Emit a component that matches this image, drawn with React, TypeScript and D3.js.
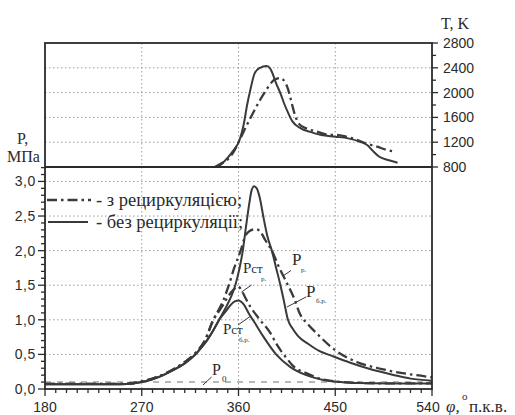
import React from "react";
import * as d3 from "d3";

// ---- Data (crank angle °, value) ----
const pressureTicks = [0, 0.5, 1.0, 1.5, 2.0, 2.5, 3.0];
const tempTicks = [800, 1200, 1600, 2000, 2400, 2800];
const angleTicks = [180, 270, 360, 450, 540];

// Firing pressure without recirculation (P б.р.), MPa
const pFiringNoRec: [number, number][] = [
  [180, 0.07], [220, 0.07], [250, 0.07], [262, 0.08], [270, 0.1], [280, 0.14], [290, 0.2],
  [300, 0.28], [310, 0.37], [320, 0.5], [325, 0.59], [331, 0.71], [337, 0.86], [342, 1.0],
  [348, 1.17], [353, 1.33], [357, 1.5], [361, 1.75], [364, 2.0], [367, 2.35], [370, 2.68],
  [372, 2.86], [374.5, 2.93], [377, 2.9], [380, 2.75], [383, 2.5], [387, 2.2], [391, 2.0],
  [395, 1.75], [399, 1.5], [402, 1.29], [406, 1.0], [410, 0.88], [415, 0.77], [425, 0.65],
  [435, 0.55], [445, 0.49], [464, 0.38], [480, 0.3], [505, 0.2], [520, 0.15], [540, 0.12],
];
// Firing pressure with recirculation (P р.), MPa
const pFiringRec: [number, number][] = [
  [180, 0.075], [220, 0.075], [250, 0.075], [262, 0.085], [270, 0.11], [280, 0.15], [290, 0.21],
  [300, 0.29], [310, 0.39], [320, 0.52], [329, 0.71], [336.6, 1.0], [345, 1.25], [351, 1.5],
  [356, 1.75], [362, 2.0], [366, 2.2], [370, 2.28], [376, 2.31], [380, 2.28], [385, 2.15],
  [391, 2.0], [398, 1.75], [406, 1.5], [412, 1.3], [417, 1.09], [425, 0.93], [433, 0.8],
  [450, 0.56], [470, 0.39], [490, 0.3], [505, 0.25], [525, 0.2], [540, 0.17],
];
// Motoring pressure without recirculation (Pст б.р.), MPa
const pMotorNoRec: [number, number][] = [
  [180, 0.07], [220, 0.07], [250, 0.07], [262, 0.08], [270, 0.1], [280, 0.14], [290, 0.2],
  [300, 0.28], [310, 0.37], [320, 0.5], [325, 0.59], [331, 0.71], [337, 0.86], [342, 1.0],
  [348, 1.12], [353, 1.22], [357, 1.27], [360, 1.28], [365, 1.22], [370, 1.08], [375, 0.96],
  [383, 0.76], [395, 0.5], [408, 0.32], [423, 0.2], [439, 0.13], [455, 0.1], [470, 0.085],
  [500, 0.08], [540, 0.08],
];
// Motoring pressure with recirculation (Pст р.), MPa
const pMotorRec: [number, number][] = [
  [180, 0.075], [220, 0.075], [250, 0.075], [262, 0.085], [270, 0.11], [280, 0.15], [290, 0.21],
  [300, 0.29], [310, 0.39], [320, 0.52], [329, 0.71], [336.6, 1.0], [340, 1.08], [345, 1.2],
  [350, 1.33], [355, 1.43], [358, 1.47], [360, 1.48], [363, 1.42], [367, 1.3], [371, 1.19],
  [380, 1.0], [390, 0.8], [395, 0.66], [400, 0.54], [405, 0.44], [411, 0.33], [423, 0.23],
  [436, 0.15], [450, 0.11], [470, 0.09], [500, 0.08], [540, 0.08],
];
// Ambient pressure P0
const pAmbient: [number, number][] = [[180, 0.1], [540, 0.1]];

// Temperature without recirculation, K
const tNoRec: [number, number][] = [
  [341, 800], [345, 860], [350, 950], [355, 1060], [361, 1235], [365, 1500], [368, 1800],
  [371, 2042], [375, 2311], [380, 2400], [386, 2429], [389, 2400], [391, 2337], [395, 2150],
  [399, 1989], [403, 1800], [406, 1680], [410, 1540], [418, 1424], [426, 1370], [437, 1316],
  [450, 1289], [462, 1262], [473, 1208], [480, 1150], [485, 1060], [491, 966], [500, 910],
  [508, 870],
];
// Temperature with recirculation, K
const tRec: [number, number][] = [
  [338, 800], [343, 850], [347, 885], [352, 960], [356, 1060], [361, 1235], [367, 1450],
  [373.5, 1670], [380, 1880], [387, 2074], [394, 2215], [399, 2235], [403, 2176], [406, 2060],
  [408, 1934], [412.5, 1640], [416, 1500], [423, 1424], [433, 1370], [445, 1316], [450, 1320],
  [460, 1290], [470, 1240], [478, 1182], [489, 1128], [497, 1080], [505.6, 1047],
];

const legendLabels = ["- з рециркуляцією;", "- без рециркуляції;"];

const W = 515;
const H = 415;
const left = 45;
const right = 432;
const top = 43;
const mid = 167;
const bottom = 389;

const DASHDOT = "10,4,2.5,4";
const INK = "#2b2b2b";
const LINE = "#3a3a3a";
const GRID = "#9a9a9a";
const sansStyle = { fontFamily: "'Liberation Sans', Arial, sans-serif" };
const serifStyle = { fontFamily: "'Liberation Serif', 'Times New Roman', serif" };

export default function App() {
  const x = d3.scaleLinear().domain([180, 540]).range([left, right]);
  const yP = d3.scaleLinear().domain([0, 3.2]).range([bottom, mid + 0.6]);
  const yT = d3.scaleLinear().domain([800, 2800]).range([mid, top]);

  const lineP = d3
    .line<[number, number]>()
    .x((d) => x(d[0]))
    .y((d) => yP(d[1]))
    .curve(d3.curveMonotoneX);
  const lineT = d3
    .line<[number, number]>()
    .x((d) => x(d[0]))
    .y((d) => yT(d[1]))
    .curve(d3.curveMonotoneX);

  const fmt = (v: number) => d3.format(".1f")(v).replace(".", ",");

  const minorP = d3.range(0, 3.21, 0.1);
  const minorT = d3.range(800, 2801, 200);
  const minorX = d3.range(180, 541, 10);

  const vGrid = [270, 360, 450];

  return (
    <svg
      width={W}
      height={H}
      style={{ position: "absolute", left: 0, top: 0, background: "#fff" }}
    >
      <defs>
        <clipPath id="clipLow">
          <rect x={left} y={mid} width={right - left} height={bottom - mid} />
        </clipPath>
        <clipPath id="clipUp">
          <rect x={left} y={top} width={right - left} height={mid - top} />
        </clipPath>
      </defs>
      <rect x={0} y={0} width={W} height={H} fill="#fff" />

      {/* grid */}
      <g stroke={GRID} strokeWidth={1} strokeDasharray="1.5,2.5" fill="none">
        {vGrid.map((v) => (
          <line key={"vg" + v} x1={x(v)} x2={x(v)} y1={top} y2={bottom} />
        ))}
        {[0.5, 1.0, 1.5, 2.0, 2.5, 3.0].map((v) => (
          <line key={"hp" + v} x1={left} x2={right} y1={yP(v)} y2={yP(v)} />
        ))}
        {[1200, 1600, 2000, 2400].map((v) => (
          <line key={"ht" + v} x1={left} x2={right} y1={yT(v)} y2={yT(v)} />
        ))}
      </g>

      {/* P0 ambient */}
      <path
        d={lineP(pAmbient) || ""}
        stroke="#a0a0a0"
        strokeWidth={1.5}
        strokeDasharray="6,6"
        fill="none"
      />

      {/* pressure curves */}
      <g clipPath="url(#clipLow)" fill="none" stroke={LINE} strokeWidth={2}>
        <path d={lineP(pMotorNoRec) || ""} />
        <path d={lineP(pMotorRec) || ""} strokeDasharray={DASHDOT} strokeWidth={2.3} />
        <path d={lineP(pFiringNoRec) || ""} />
        <path d={lineP(pFiringRec) || ""} strokeDasharray={DASHDOT} strokeWidth={2.3} />
      </g>

      {/* temperature curves */}
      <g clipPath="url(#clipUp)" fill="none" stroke={LINE} strokeWidth={2}>
        <path d={lineT(tNoRec) || ""} />
        <path d={lineT(tRec) || ""} strokeDasharray={DASHDOT} strokeWidth={2.3} />
      </g>

      {/* frame */}
      <g stroke={INK} strokeWidth={1.8} fill="none">
        <rect x={left} y={top} width={right - left} height={bottom - top} />
        <line x1={left} x2={right} y1={mid} y2={mid} />
      </g>

      {/* axis ticks */}
      <g stroke={INK} strokeWidth={1.3}>
        {minorP.map((v, i) => {
          const major = i % 5 === 0;
          return (
            <line
              key={"tp" + i}
              x1={left - (major ? 7 : 4)}
              x2={left}
              y1={yP(v)}
              y2={yP(v)}
            />
          );
        })}
        {minorT.map((v) => {
          const major = (v - 800) % 400 === 0;
          return (
            <line
              key={"tt" + v}
              x1={right}
              x2={right + (major ? 6 : 4)}
              y1={yT(v)}
              y2={yT(v)}
            />
          );
        })}
        {minorX.map((v) => {
          const major = (v - 180) % 90 === 0;
          return (
            <line
              key={"tx" + v}
              x1={x(v)}
              x2={x(v)}
              y1={bottom}
              y2={bottom + (major ? 7 : 4)}
            />
          );
        })}
      </g>

      {/* tick labels */}
      <g style={sansStyle} fontSize={14} fill={INK}>
        {pressureTicks.map((v) => (
          <text key={"lp" + v} x={36} y={yP(v) + 5} textAnchor="end" letterSpacing={0.6}>
            {fmt(v)}
          </text>
        ))}
        {tempTicks.map((v) => (
          <text key={"lt" + v} x={443} y={yT(v) + 5}>
            {v}
          </text>
        ))}
        {angleTicks.map((v) => (
          <text key={"lx" + v} x={x(v) - (v === 540 ? 4 : 0)} y={412} textAnchor="middle">
            {v}
          </text>
        ))}
      </g>

      {/* axis titles */}
      <g style={serifStyle} fill={INK}>
        <text x={17} y={144} fontSize={16}>P,</text>
        <text x={7} y={162} fontSize={16}>МПа</text>
        <text x={441} y={29} fontSize={16}>T, K</text>
        <text x={446} y={412} fontSize={17} fontStyle="italic">φ,</text>
        <text x={462} y={400} fontSize={11}>o</text>
        <text x={469} y={412} fontSize={17}>п.к.в.</text>
      </g>

      {/* legend */}
      <g stroke={LINE} strokeWidth={2.3} fill="none">
        <line x1={47} x2={91} y1={200} y2={200} strokeDasharray={DASHDOT} />
        <line x1={48} x2={88} y1={222} y2={222} strokeWidth={2} />
      </g>
      <g style={serifStyle} fontSize={18.5} fill={INK}>
        <text x={96} y={206}>{legendLabels[0]}</text>
        <text x={96} y={228}>{legendLabels[1]}</text>
      </g>

      {/* curve labels */}
      <g stroke={LINE} strokeWidth={1}>
        <line x1={283} y1={276} x2={291} y2={270.5} />
        <line x1={287} y1={307} x2={306} y2={297} />
        <line x1={241.5} y1={292} x2={251.5} y2={285} />
        <line x1={238} y1={325} x2={250} y2={316.5} />
        <line x1={203} y1={385} x2={211.5} y2={377} />
      </g>
      <g style={serifStyle} fill={INK}>
        <text x={292} y={265} fontSize={17}>P</text>
        <text x={301} y={272} fontSize={7}>р.</text>
        <text x={306} y={297} fontSize={17}>P</text>
        <text x={316} y={303} fontSize={7}>б.р.</text>
        <text x={243} y={273} fontSize={15}>
          P<tspan fontSize={13}>ст</tspan>
        </text>
        <text x={261} y={281} fontSize={7}>р.</text>
        <text x={223} y={334} fontSize={15}>
          P<tspan fontSize={13}>ст</tspan>
        </text>
        <text x={239} y={342} fontSize={7}>б.р.</text>
        <text x={212} y={375} fontSize={16}>P</text>
        <text x={222} y={382} fontSize={9}>0</text>
      </g>
    </svg>
  );
}
